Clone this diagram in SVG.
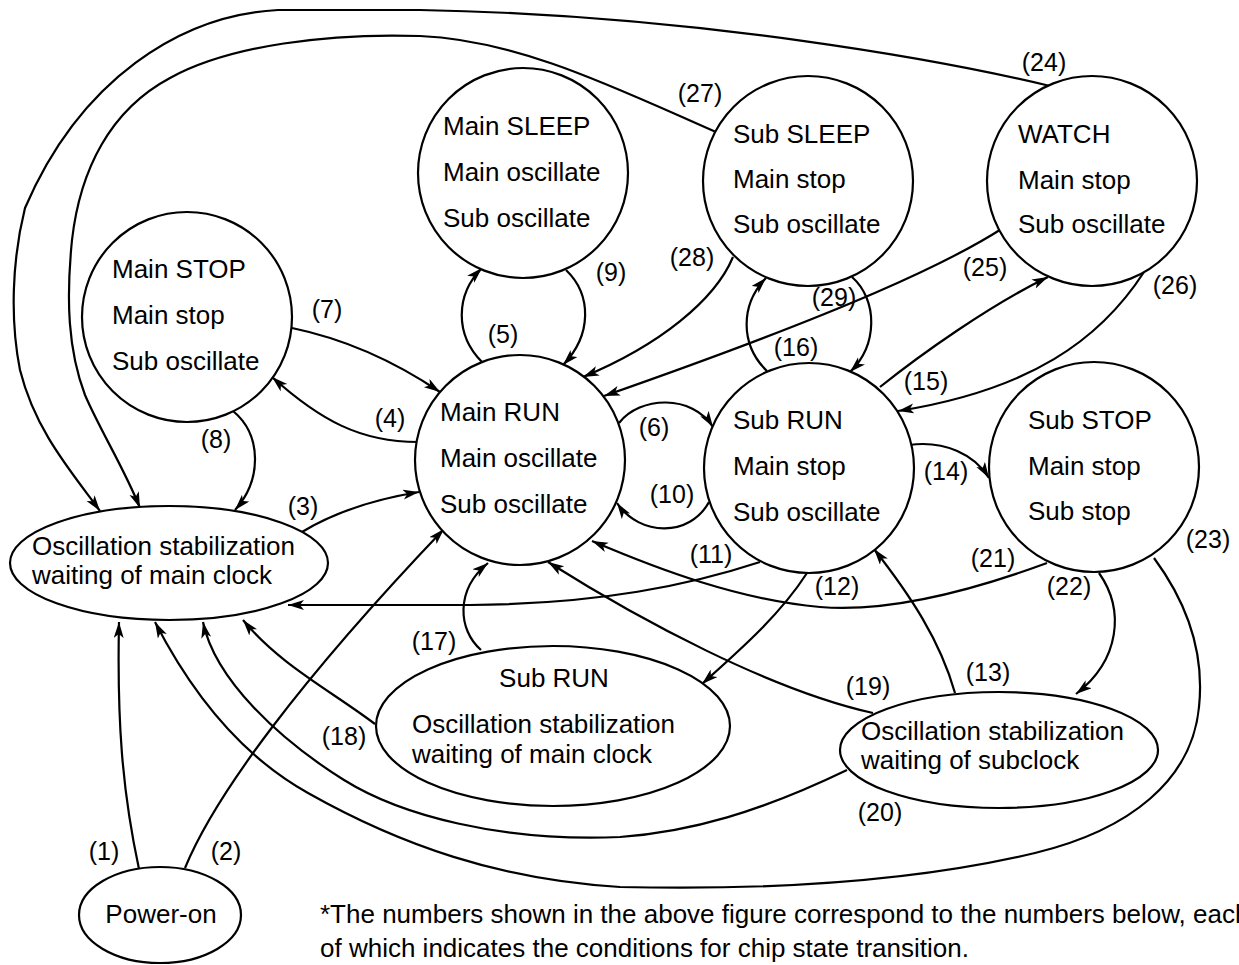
<svg xmlns="http://www.w3.org/2000/svg" width="1239" height="965" viewBox="0 0 1239 965">
  <style>
    .node { fill: #fff; stroke: #000; stroke-width: 2.2; }
    .t { font-family: "Liberation Sans", Arial, sans-serif; font-size: 26px; fill: #000; }
    .lbl { font-family: "Liberation Sans", Arial, sans-serif; font-size: 25px; fill: #000; text-anchor: middle; }
    .edge { fill: none; stroke: #000; stroke-width: 2.2; }
    .arr { marker-end: url(#ah); }
  </style>
  <defs>
    <marker id="ah" markerUnits="userSpaceOnUse" markerWidth="18" markerHeight="12" refX="16" refY="5" orient="auto">
      <path d="M0,0 L16,5 L0,10 L4,5 Z" fill="#000"/>
    </marker>
  </defs>
  <rect width="1239" height="965" fill="#fff"/>

  <!-- transitions -->
  <g id="connectors">
    <path class="edge arr" d="M139,869 C 122,790 117,720 119,622"/>
    <path class="edge arr" d="M185,868 C 215,795 300,680 444,529"/>
    <path class="edge arr" d="M302,532 C 330,515 370,500 419,492"/>
    <path class="edge arr" d="M418,442 C 360,442 320,420 272,377"/>
    <path class="edge arr" d="M482,362 C 455,335 455,295 482,268"/>
    <path class="edge arr" d="M619,423 C 640,396 692,394 713,427"/>
    <path class="edge arr" d="M292,328 C 350,340 400,365 440,392"/>
    <path class="edge arr" d="M233,411 C 262,435 262,480 235,510"/>
    <path class="edge arr" d="M566,270 C 592,295 592,335 563,365"/>
    <path class="edge arr" d="M709,502 C 690,537 640,537 617,503"/>
    <path class="edge arr" d="M760,562 C 690,585 600,604 470,605 L 288,605"/>
    <path class="edge arr" d="M807,573 C 780,615 740,650 702,684"/>
    <path class="edge arr" d="M955,693 C 940,640 910,595 874,549"/>
    <path class="edge arr" d="M909,445 C 945,440 975,455 989,478"/>
    <path class="edge arr" d="M880,387 C 920,355 990,305 1048,277"/>
    <path class="edge arr" d="M767,371 C 740,345 740,305 766,278"/>
    <path class="edge arr" d="M481,650 C 458,630 455,590 488,563"/>
    <path class="edge arr" d="M375,724 C 330,690 280,665 243,620"/>
    <path class="edge arr" d="M873,713 C 770,690 640,620 548,562"/>
    <path class="edge arr" d="M847,770 C 760,812 690,832 620,837 C 500,842 400,815 344,780 C 280,740 215,680 203,622"/>
    <path class="edge arr" d="M1047,563 C 960,595 880,612 820,607 C 740,600 660,570 592,541"/>
    <path class="edge arr" d="M1099,573 C 1125,610 1120,660 1076,694"/>
    <path class="edge arr" d="M1154,558 C 1185,600 1205,650 1199,707 C 1192,780 1130,830 1035,853 C 900,885 750,890 620,887 C 500,880 400,845 308,793 C 240,755 190,690 155,622"/>
    <path class="edge arr" d="M1050,86 C 950,62 700,15 420,10 L 278,10 C 180,15 80,80 25,208 C 12,260 10,320 20,370 C 35,430 70,470 100,511"/>
    <path class="edge arr" d="M1003,228 C 950,262 850,310 604,396"/>
    <path class="edge arr" d="M1144,272 C 1100,340 1030,390 898,411"/>
    <path class="edge arr" d="M716,132 C 620,90 520,40 420,36 C 330,33 230,45 170,78 C 110,110 80,170 72,240 C 66,300 68,350 85,395 C 100,430 125,470 140,508"/>
    <path class="edge arr" d="M733,257 C 715,300 660,345 583,377"/>
    <path class="edge arr" d="M852,277 C 878,300 878,345 850,372"/>
  </g>

  <g id="labels">
    <text class="lbl" x="104" y="860">(1)</text>
    <text class="lbl" x="226" y="860">(2)</text>
    <text class="lbl" x="303" y="515">(3)</text>
    <text class="lbl" x="390" y="427">(4)</text>
    <text class="lbl" x="503" y="343">(5)</text>
    <text class="lbl" x="654" y="436">(6)</text>
    <text class="lbl" x="327" y="318">(7)</text>
    <text class="lbl" x="216" y="448">(8)</text>
    <text class="lbl" x="611" y="281">(9)</text>
    <text class="lbl" x="672" y="503">(10)</text>
    <text class="lbl" x="711" y="563">(11)</text>
    <text class="lbl" x="837" y="595">(12)</text>
    <text class="lbl" x="988" y="681">(13)</text>
    <text class="lbl" x="946" y="480">(14)</text>
    <text class="lbl" x="926" y="390">(15)</text>
    <text class="lbl" x="796" y="356">(16)</text>
    <text class="lbl" x="434" y="650">(17)</text>
    <text class="lbl" x="344" y="745">(18)</text>
    <text class="lbl" x="868" y="695">(19)</text>
    <text class="lbl" x="880" y="821">(20)</text>
    <text class="lbl" x="993" y="567">(21)</text>
    <text class="lbl" x="1069" y="595">(22)</text>
    <text class="lbl" x="1208" y="548">(23)</text>
    <text class="lbl" x="1044" y="71">(24)</text>
    <text class="lbl" x="985" y="276">(25)</text>
    <text class="lbl" x="1175" y="294">(26)</text>
    <text class="lbl" x="700" y="102">(27)</text>
    <text class="lbl" x="692" y="266">(28)</text>
    <text class="lbl" x="834" y="306">(29)</text>
  </g>

  <!-- states -->
  <g id="main-stop">
    <circle class="node" cx="187" cy="317" r="105"/>
    <text class="t" x="112" y="278">Main STOP</text>
    <text class="t" x="112" y="324">Main stop</text>
    <text class="t" x="112" y="370">Sub oscillate</text>
  </g>
  <g id="main-sleep">
    <circle class="node" cx="523" cy="173" r="105"/>
    <text class="t" x="443" y="135">Main SLEEP</text>
    <text class="t" x="443" y="181">Main oscillate</text>
    <text class="t" x="443" y="227">Sub oscillate</text>
  </g>
  <g id="sub-sleep">
    <circle class="node" cx="808" cy="181" r="105"/>
    <text class="t" x="733" y="143">Sub SLEEP</text>
    <text class="t" x="733" y="188">Main stop</text>
    <text class="t" x="733" y="233">Sub oscillate</text>
  </g>
  <g id="watch">
    <circle class="node" cx="1092" cy="181" r="105"/>
    <text class="t" x="1018" y="143">WATCH</text>
    <text class="t" x="1018" y="189">Main stop</text>
    <text class="t" x="1018" y="233">Sub oscillate</text>
  </g>
  <g id="main-run">
    <circle class="node" cx="520" cy="460" r="105"/>
    <text class="t" x="440" y="421">Main RUN</text>
    <text class="t" x="440" y="467">Main oscillate</text>
    <text class="t" x="440" y="513">Sub oscillate</text>
  </g>
  <g id="sub-run">
    <circle class="node" cx="809" cy="468" r="105"/>
    <text class="t" x="733" y="429">Sub RUN</text>
    <text class="t" x="733" y="475">Main stop</text>
    <text class="t" x="733" y="521">Sub oscillate</text>
  </g>
  <g id="sub-stop">
    <circle class="node" cx="1094" cy="467" r="105"/>
    <text class="t" x="1028" y="429">Sub STOP</text>
    <text class="t" x="1028" y="475">Main stop</text>
    <text class="t" x="1028" y="520">Sub stop</text>
  </g>
  <g id="main-clock-wait">
    <ellipse class="node" cx="169" cy="563" rx="159" ry="57"/>
    <text class="t" x="32" y="555">Oscillation stabilization</text>
    <text class="t" x="32" y="584">waiting of main clock</text>
  </g>
  <g id="sub-run-wait">
    <ellipse class="node" cx="553" cy="726" rx="177" ry="80"/>
    <text class="t" x="554" y="687" text-anchor="middle">Sub RUN</text>
    <text class="t" x="412" y="733">Oscillation stabilization</text>
    <text class="t" x="412" y="763">waiting of main clock</text>
  </g>
  <g id="sub-clock-wait">
    <ellipse class="node" cx="999" cy="750" rx="159" ry="58"/>
    <text class="t" x="861" y="740">Oscillation stabilization</text>
    <text class="t" x="861" y="769">waiting of subclock</text>
  </g>
  <g id="power-on">
    <ellipse class="node" cx="160" cy="915" rx="81" ry="48"/>
    <text class="t" x="161" y="923" text-anchor="middle">Power-on</text>
  </g>

  <g id="note">
    <text class="t" x="320" y="923">*The numbers shown in the above figure correspond to the numbers below, each</text>
    <text class="t" x="320" y="957">of which indicates the conditions for chip state transition.</text>
  </g>
</svg>
